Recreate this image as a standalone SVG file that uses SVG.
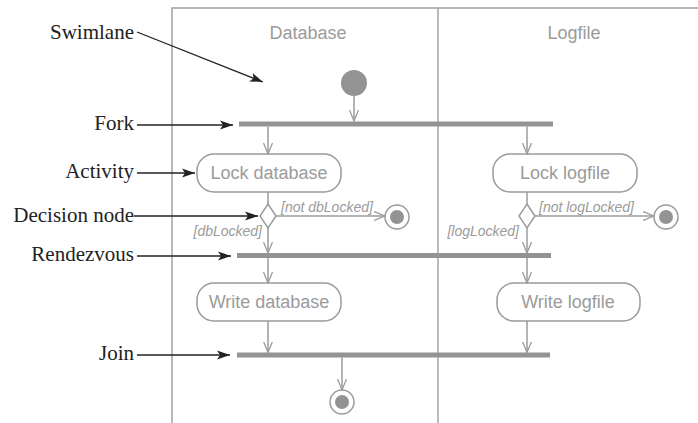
<svg xmlns="http://www.w3.org/2000/svg" width="698" height="423" viewBox="0 0 698 423">
<defs>
<style>
.lane{fill:none;stroke:#a3a3a3;stroke-width:1.5}
.lt{font-family:"Liberation Sans",Arial,sans-serif;font-size:18px;fill:#9b9b9b;text-anchor:middle}
.act rect{fill:#fff;stroke:#9b9b9b;stroke-width:1.5}
.act text{font-family:"Liberation Sans",Arial,sans-serif;font-size:18px;fill:#9b9b9b;text-anchor:middle}
.bar{fill:#939393}
.fill{fill:#939393}
.ring{fill:#fff;stroke:#9b9b9b;stroke-width:1.5}
.dia{fill:#fff;stroke:#9b9b9b;stroke-width:1.5}
.flow{fill:none;stroke:#9b9b9b;stroke-width:1.5;marker-end:url(#open)}
.guard{font-family:"Liberation Sans",Arial,sans-serif;font-size:14px;font-style:italic;fill:#9b9b9b}
.ann{font-family:"Liberation Serif","Times New Roman",serif;font-size:21px;fill:#222;text-anchor:end}
.pt{fill:none;stroke:#222;stroke-width:1.3;marker-end:url(#solid)}
</style>
<marker id="open" viewBox="0 0 12 10" refX="11" refY="5" markerWidth="12" markerHeight="10" markerUnits="userSpaceOnUse" orient="auto">
<path d="M0,0.5 L11,5 L0,9.5" fill="none" stroke="#9b9b9b" stroke-width="1.3"/>
</marker>
<marker id="solid" viewBox="0 0 14 10" refX="13" refY="5" markerWidth="14" markerHeight="10" markerUnits="userSpaceOnUse" orient="auto">
<path d="M0,0.5 L13,5 L0,9.5 L3,5 Z" fill="#222"/>
</marker>
</defs>
<g id="swimlanes">
<path class="lane" d="M172,423 V8 H698"/>
<line class="lane" x1="438" y1="8" x2="438" y2="423"/>
<text class="lt" x="308" y="39">Database</text>
<text class="lt" x="574" y="39">Logfile</text>
</g>
<g id="initial"><circle class="fill" cx="354" cy="83" r="13"/></g>
<g id="fork"><rect class="bar" x="239" y="121.5" width="314" height="5"/></g>
<g id="lockDb" class="act"><rect x="197" y="154" width="144" height="38" rx="17"/><text x="269" y="179">Lock database</text></g>
<g id="lockLog" class="act"><rect x="493" y="154" width="144" height="38" rx="17"/><text x="565" y="179">Lock logfile</text></g>
<g id="decisionDb"><polygon class="dia" points="268,204 276,216 268,228 260,216"/></g>
<g id="decisionLog"><polygon class="dia" points="527,204 535,216 527,228 519,216"/></g>
<g id="finalDb"><circle class="ring" cx="397" cy="217" r="12"/><circle class="fill" cx="397" cy="217" r="7"/></g>
<g id="finalLog"><circle class="ring" cx="666" cy="217" r="12"/><circle class="fill" cx="666" cy="217" r="7"/></g>
<g id="rendezvous"><rect class="bar" x="237" y="253" width="314" height="5"/></g>
<g id="writeDb" class="act"><rect x="197" y="283" width="144" height="38" rx="17"/><text x="269" y="308">Write database</text></g>
<g id="writeLog" class="act"><rect x="497" y="283" width="143" height="38" rx="17"/><text x="568" y="308">Write logfile</text></g>
<g id="join"><rect class="bar" x="237" y="352.5" width="313" height="5"/></g>
<g id="final"><circle class="ring" cx="342" cy="402" r="12"/><circle class="fill" cx="342" cy="402" r="7"/></g>
<g id="connectors">
<line class="flow" x1="354" y1="96" x2="354" y2="121"/>
<line class="flow" x1="268" y1="126.5" x2="268" y2="154"/>
<line class="flow" x1="527" y1="126.5" x2="527" y2="154"/>
<line class="flow" x1="268" y1="192" x2="268" y2="204" style="marker-end:none"/>
<line class="flow" x1="527" y1="192" x2="527" y2="204" style="marker-end:none"/>
<line class="flow" x1="268" y1="228" x2="268" y2="253"/>
<line class="flow" x1="527" y1="228" x2="527" y2="253"/>
<line class="flow" x1="276" y1="216" x2="385" y2="216"/>
<line class="flow" x1="535" y1="216" x2="654" y2="216"/>
<line class="flow" x1="268" y1="258" x2="268" y2="283"/>
<line class="flow" x1="527" y1="258" x2="527" y2="283"/>
<line class="flow" x1="268" y1="321" x2="268" y2="352.5"/>
<line class="flow" x1="527" y1="321" x2="527" y2="352.5"/>
<line class="flow" x1="342" y1="357.5" x2="342" y2="390"/>
<text class="guard" x="281" y="212">[not dbLocked]</text>
<text class="guard" x="262" y="236" text-anchor="end">[dbLocked]</text>
<text class="guard" x="539" y="212">[not logLocked]</text>
<text class="guard" x="519" y="236" text-anchor="end">[logLocked]</text>
</g>
<g id="annotations">
<text class="ann" x="134" y="39">Swimlane</text>
<line class="pt" x1="137" y1="32" x2="263" y2="82"/>
<text class="ann" x="134" y="130">Fork</text>
<line class="pt" x1="137" y1="125" x2="233" y2="125"/>
<text class="ann" x="134" y="178">Activity</text>
<line class="pt" x1="137" y1="173" x2="195" y2="173"/>
<text class="ann" x="134" y="222">Decision node</text>
<line class="pt" x1="134" y1="216" x2="258" y2="216"/>
<text class="ann" x="134" y="261">Rendezvous</text>
<line class="pt" x1="137" y1="256" x2="231" y2="256"/>
<text class="ann" x="134" y="360">Join</text>
<line class="pt" x1="137" y1="355" x2="230" y2="355"/>
</g>
</svg>
